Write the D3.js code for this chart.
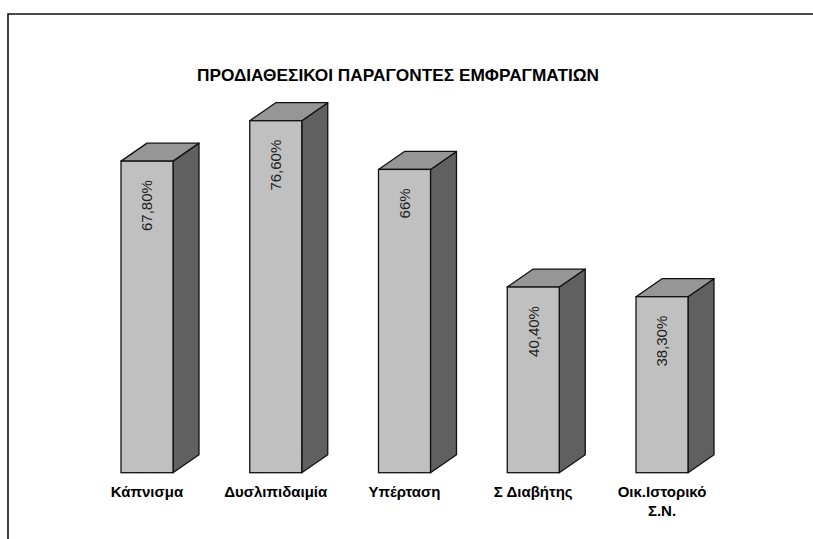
<!DOCTYPE html>
<html>
<head>
<meta charset="utf-8">
<script src="https://cdn.jsdelivr.net/npm/d3@7"></script>
<style>
  html, body { margin: 0; padding: 0; background: #fff; }
  svg { display: block; }
</style>
</head>
<body>
<svg id="chart" width="813" height="539"></svg>
<script>
const titleText = "ΠΡΟΔΙΑΘΕΣΙΚΟΙ ΠΑΡΑΓΟΝΤΕΣ ΕΜΦΡΑΓΜΑΤΙΩΝ";
const categories = ["Κάπνισμα", "Δυσλιπιδαιμία", "Υπέρταση", "Σ Διαβήτης", "Οικ.Ιστορικό Σ.Ν."];
const categoryLines = [["Κάπνισμα"], ["Δυσλιπιδαιμία"], ["Υπέρταση"], ["Σ Διαβήτης"], ["Οικ.Ιστορικό", "Σ.Ν."]];
const values = [67.8, 76.6, 66, 40.4, 38.3];
const valueLabels = ["67,80%", "76,60%", "66%", "40,40%", "38,30%"];

const svg = d3.select("#chart");
const W = 813, H = 539;

// frame lines (top and left)
svg.append("path")
  .attr("d", `M8,${H} L8,14 L${W},14`)
  .attr("fill", "none")
  .attr("stroke", "#111")
  .attr("stroke-width", 1.6);

const x = d3.scalePoint().domain(categories).range([147, 662]);
const y = d3.scaleLinear().domain([0, 100]).range([472.7, 13.2]);

const barW = 52, dx = 26, dy = 18;

const g = svg.append("g");
categories.forEach((c, i) => {
  const cx = x(c);
  const x0 = cx - barW / 2, x1 = cx + barW / 2;
  const top = y(values[i]), base = y(0);
  const bg = g.append("g");
  // side face
  bg.append("polygon")
    .attr("points", [[x1, top], [x1 + dx, top - dy], [x1 + dx, base - dy], [x1, base]].map(p => p.join(",")).join(" "))
    .attr("fill", "#606060").attr("stroke", "#111").attr("stroke-width", 1.3).attr("stroke-linejoin", "round");
  // top face
  bg.append("polygon")
    .attr("points", [[x0, top], [x0 + dx, top - dy], [x1 + dx, top - dy], [x1, top]].map(p => p.join(",")).join(" "))
    .attr("fill", "#969696").attr("stroke", "#111").attr("stroke-width", 1.3).attr("stroke-linejoin", "round");
  // front face
  bg.append("rect")
    .attr("x", x0).attr("y", top).attr("width", barW).attr("height", base - top)
    .attr("fill", "#C0C0C0").attr("stroke", "#111").attr("stroke-width", 1.3);
  // value label
  bg.append("text")
    .attr("transform", `translate(${cx},${top + 19}) rotate(-90)`)
    .attr("text-anchor", "end")
    .attr("dy", "0.35em")
    .attr("font-family", "'Liberation Sans', Arial, sans-serif")
    .attr("font-size", 15)
    .attr("fill", "#222")
    .text(valueLabels[i]);
  // category label
  const t = svg.append("text")
    .attr("x", cx).attr("y", 497)
    .attr("text-anchor", "middle")
    .attr("font-family", "'Liberation Sans', Arial, sans-serif")
    .attr("font-weight", "bold")
    .attr("font-size", 15)
    .attr("fill", "#000");
  categoryLines[i].forEach((ln, j) => {
    t.append("tspan").attr("x", cx).attr("dy", j === 0 ? 0 : 19).text(ln);
  });
});

// title
svg.append("text")
  .attr("x", 398).attr("y", 81)
  .attr("text-anchor", "middle")
  .attr("font-family", "'Liberation Sans Narrow', 'Arial Narrow', 'Liberation Sans', sans-serif")
  .attr("font-size", 17)
  .attr("font-weight", "bold")
  .attr("textLength", 402)
  .attr("lengthAdjust", "spacingAndGlyphs")
  .attr("fill", "#000")
  .text(titleText);
</script>
</body>
</html>
